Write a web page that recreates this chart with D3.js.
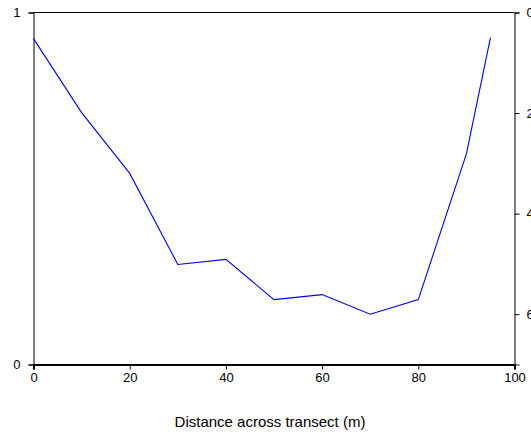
<!doctype html>
<html lang="en">
<head>
  <meta charset="utf-8">
  <title>Transect depth</title>
</head>
<style>
html, body, svg {
    margin: 0;
    padding: 0;
    border: 0;
}
body { background: #fff; }
text { font-family: "Liberation Sans", Arial, sans-serif; fill: #000; }
</style>
<body>
  <svg></svg>
</body>
<script src="https://d3js.org/d3.v7.min.js"></script>
<script type="text/javascript">
    var distance = [0, 10, 20, 30, 40, 50, 60, 70, 80, 90, 95];
    var depth = [0.52, 1.99, 3.2, 5.01, 4.91, 5.71, 5.61, 6.0, 5.71, 2.81, 0.5];
    var xTicks = [0, 20, 40, 60, 80, 100];
    var leftTicks = [0, 1];
    var rightTicks = [0, 2, 4, 6];

    var w = 531, h = 435;
    var plotLeft = 33.5, plotRight = 514.5, plotTop = 12.5, plotBottom = 364.5;

    var svg = d3.select("svg")
      .attr("width", w)
      .attr("height", h);

    var x = d3.scaleLinear().domain([0, 100]).range([plotLeft, plotRight]);
    var yLeft = d3.scaleLinear().domain([0, 1]).range([plotBottom, plotTop]);
    var yRight = d3.scaleLinear().domain([0, 7]).range([plotTop, plotBottom]);

    // frame top line
    svg.append("line")
      .attr("x1", plotLeft).attr("x2", plotRight)
      .attr("y1", plotTop).attr("y2", plotTop)
      .attr("stroke", "#000");

    var gx = svg.append("g")
      .attr("transform", "translate(0," + plotBottom + ")")
      .call(d3.axisBottom(x).tickValues(xTicks).tickSizeOuter(0).tickSize(5).tickPadding(3));

    var gl = svg.append("g")
      .attr("transform", "translate(" + plotLeft + ",0)")
      .call(d3.axisLeft(yLeft).tickValues(leftTicks).tickFormat(d3.format("d")).tickSizeOuter(0).tickSize(5).tickPadding(8));

    var gr = svg.append("g")
      .attr("transform", "translate(" + plotRight + ",0)")
      .call(d3.axisRight(yRight).tickValues(rightTicks).tickSizeOuter(0).tickSize(5).tickPadding(7));

    svg.selectAll("g").attr("font-size", 13).attr("font-family", "Liberation Sans, Arial, sans-serif");
    svg.selectAll(".domain").attr("stroke", "#000");
    svg.selectAll(".tick line").attr("stroke", "#000");
    svg.selectAll(".tick text").attr("fill", "#000");
    gx.select(".domain").attr("stroke-width", 2);

    svg.append("path")
      .datum(d3.range(distance.length))
      .attr("fill", "none")
      .attr("stroke", "#0000ff")
      .attr("stroke-width", 1.1)
      .attr("d", d3.line()
        .x(function(i) { return x(distance[i]); })
        .y(function(i) { return yRight(depth[i]); }));

    svg.append("text")
      .attr("x", 270)
      .attr("y", 427)
      .attr("text-anchor", "middle")
      .attr("font-size", 15)
      .text("Distance across transect (m)");
</script>
</html>
